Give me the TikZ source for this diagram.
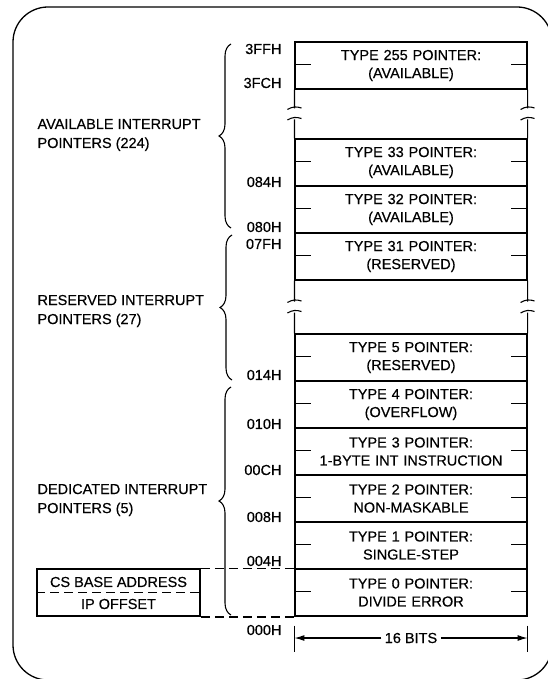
\documentclass[tikz,border=0pt]{standalone}
\usepackage{fontspec}
\setmainfont{Liberation Sans}[FakeBold=0.4]
\usetikzlibrary{arrows.meta,decorations.pathreplacing,calc}
\begin{document}
\begin{tikzpicture}[x=1pt,y=-1pt,
  font=\fontsize{14.5}{18}\selectfont,
  line width=1.1pt,
  cell/.style={draw, minimum height=47pt, inner sep=0pt, align=center, text width=232pt},
  lbl/.style={anchor=east, inner sep=0pt},
  grp/.style={anchor=west, align=left, inner sep=0pt, font=\fontsize{14.5}{19}\selectfont},
  bracestyle/.style={decorate, decoration={brace, amplitude=12pt}},
  dashline/.style={dash pattern=on 9pt off 5pt},
  tip/.style={-{Latex[length=10pt,width=6pt]}}]
\useasboundingbox (0,0) rectangle (548,679);
\clip (0,0) rectangle (548,679);
% outer frame
\draw[line width=1.3pt, rounded corners=35pt] (13,7) rectangle (552,680);

% memory rows
\node[cell] (t255) at (411,65.5)  {TYPE 255 POINTER:\\(AVAILABLE)};
\node[cell] (t33)  at (411,162.5) {TYPE 33 POINTER:\\(AVAILABLE)};
\node[cell] (t32)  at (411,209.5) {TYPE 32 POINTER:\\(AVAILABLE)};
\node[cell] (t31)  at (411,256.5) {TYPE 31 POINTER:\\(RESERVED)};
\node[cell] (t5)   at (411,357.5) {TYPE 5 POINTER:\\(RESERVED)};
\node[cell] (t4)   at (411,404.5) {TYPE 4 POINTER:\\(OVERFLOW)};
\node[cell] (t3)   at (411,451.5) {TYPE 3 POINTER:\\1-BYTE INT INSTRUCTION};
\node[cell] (t2)   at (411,498.5) {TYPE 2 POINTER:\\NON-MASKABLE};
\node[cell] (t1)   at (411,545.5) {TYPE 1 POINTER:\\SINGLE-STEP};
\node[cell] (t0)   at (411,592.5) {TYPE 0 POINTER:\\DIVIDE ERROR};

% side ticks
\foreach \r in {t255,t33,t32,t31,t5,t4,t3,t2,t1,t0}{
  \draw ([yshift=1pt]\r.west) -- ++(17,0);
  \draw ([yshift=1pt]\r.east) -- ++(-17,0);
}

% broken sides in the gaps
\foreach \r/\s in {t255/t33,t31/t5}{
  \foreach \a in {west,east}{
    \coordinate (m) at ($(\r.south \a)!0.5!(\s.north \a)$);
    \draw (\r.south \a) -- ([yshift=5.5pt]m);
    \draw ([yshift=-5.5pt]m) -- (\s.north \a);
    \draw ([shift={(-7pt,4.5pt)}]m) to[bend left=25] ([shift={(7pt,6pt)}]m);
    \draw ([shift={(-7pt,-6pt)}]m) to[bend left=25] ([shift={(7pt,-4.5pt)}]m);
  }
}

% addresses
\node[lbl] (a3ff) at (282,49)  {3FFH};
\node[lbl] (a3fc) at (282,83)  {3FCH};
\node[lbl] (a084) at (282,182) {084H};
\node[lbl] (a080) at (282,227) {080H};
\node[lbl] (a07f) at (282,244) {07FH};
\node[lbl] (a014) at (282,375) {014H};
\node[lbl] (a010) at (282,424) {010H};
\node[lbl] (a00c) at (282,470) {00CH};
\node[lbl] (a008) at (282,517) {008H};
\node[lbl] (a004) at (282,561) {004H};
\node[lbl] (a000) at (282,630) {000H};

% braces
\draw[bracestyle] (231,228) -- (231,44);
\draw[bracestyle] (232,380) -- (232,235);
\draw[bracestyle] (231,615) -- (231,387);

% group labels
\node[grp] (gav) at (37,135) {AVAILABLE INTERRUPT\\POINTERS (224)};
\node[grp] (gre) at (37,311) {RESERVED INTERRUPT\\POINTERS (27)};
\node[grp] (gde) at (37,500) {DEDICATED INTERRUPT\\POINTERS (5)};

% CS / IP box
\node[draw, line width=1.9pt, minimum width=163pt, minimum height=47pt, inner sep=0pt] (cs) at (118.5,592.5) {};
\node[inner sep=0pt] (csb) at (118.5,582) {CS BASE ADDRESS};
\node[inner sep=0pt] (ipo) at (118.5,604) {IP OFFSET};
\draw[dashline] (cs.west) -- (cs.east);
\draw[dashline] (cs.north east) -- (cs.north east -| t0.west);
\draw[dashline] (cs.south east) -- (cs.south east -| t0.west);

% 16 bits
\draw ([yshift=-9pt]t0.south west) -- ++(0,26);
\draw ([yshift=-9pt]t0.south east) -- ++(0,26);
\node[fill=white, inner sep=3pt] (bits) at (411,638) {16 BITS};
\draw[tip] (bits.west) -- (bits.west -| t0.west);
\draw[tip] (bits.east) -- (bits.east -| t0.east);
\end{tikzpicture}
\end{document}
